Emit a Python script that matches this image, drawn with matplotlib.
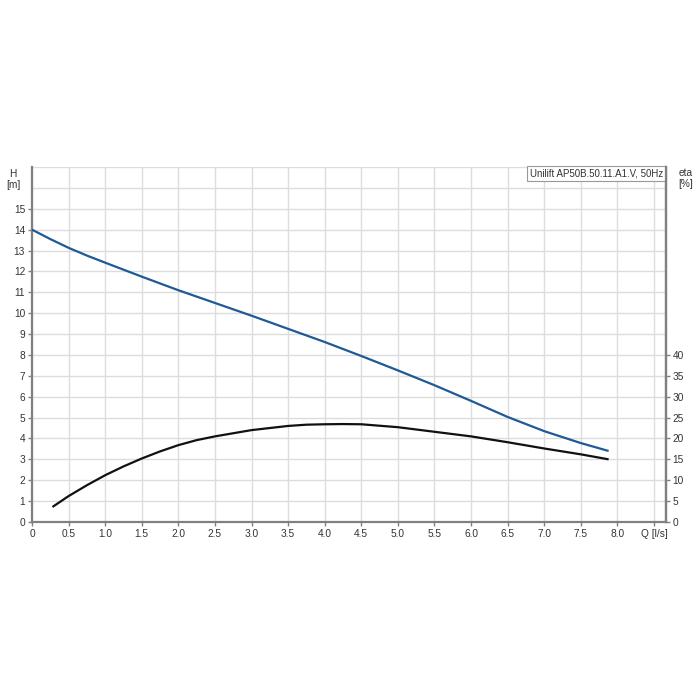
import matplotlib
matplotlib.use("Agg")
import matplotlib.pyplot as plt

plt.rcParams['font.family'] = ['Liberation Sans', 'DejaVu Sans']

# Head curve
q_head = [0.0, 0.25, 0.5, 0.75, 1.0, 1.5, 2.0, 2.5, 3.0, 3.5, 4.0, 4.5, 5.0, 5.5, 6.0, 6.5, 7.0, 7.5, 7.88]
head = [14.0, 13.55, 13.13, 12.76, 12.42, 11.75, 11.10, 10.49, 9.88, 9.25, 8.62, 7.95, 7.26, 6.55, 5.80, 5.03, 4.35, 3.78, 3.40]

# Efficiency curve
q_eta = [0.28, 0.5, 0.75, 1.0, 1.25, 1.5, 1.75, 2.0, 2.25, 2.5, 3.0, 3.5, 3.75, 4.0, 4.25, 4.5, 5.0, 5.5, 6.0, 6.5, 7.0, 7.5, 7.88]
eta = [3.6, 6.2, 8.8, 11.2, 13.3, 15.2, 16.9, 18.4, 19.6, 20.5, 22.0, 23.0, 23.3, 23.4, 23.45, 23.4, 22.7, 21.6, 20.5, 19.1, 17.6, 16.2, 15.0]

x_ticks = [0, 0.5, 1.0, 1.5, 2.0, 2.5, 3.0, 3.5, 4.0, 4.5, 5.0, 5.5, 6.0, 6.5, 7.0, 7.5, 8.0, 8.5]
x_labels = ["0", "0.5", "1.0", "1.5", "2.0", "2.5", "3.0", "3.5", "4.0", "4.5",
            "5.0", "5.5", "6.0", "6.5", "7.0", "7.5", "8.0", "Q [l/s]"]
h_ticks = list(range(0, 16))
eta_ticks = list(range(0, 45, 5))
title_text = "Unilift AP50B.50.11.A1.V, 50Hz"

grid_c = "#dcdcdc"
spine_c = "#808080"
txt_c = "#333333"

fig = plt.figure(figsize=(7, 7), dpi=100)
ax = fig.add_axes([0.0457, 0.2543, 0.9053, 0.5071])
ax.set_xlim(0, 8.66)
ax.set_ylim(0, 17)

# grid
for xv in x_ticks:
    ax.axvline(xv, color=grid_c, lw=1.0, zorder=0)
for yv in range(0, 18):
    ax.axhline(yv, color=grid_c, lw=1.0, zorder=0)

ax.plot(q_head, head, color="#1f5a96", lw=1.6, zorder=3,
        solid_capstyle='butt', solid_joinstyle='round')

ax.set_xticks(x_ticks)
ax.set_xticklabels(x_labels)
ax.set_yticks(h_ticks)
ax.tick_params(axis='both', labelsize=7.3, colors=spine_c, labelcolor=txt_c, length=3, width=1, pad=2)

ax.spines['top'].set_visible(False)
for s in ['left', 'bottom', 'right']:
    ax.spines[s].set_color(spine_c)
    ax.spines[s].set_linewidth(1.6)

ax2 = ax.twinx()
ax2.set_ylim(0, 85)
ax2.plot(q_eta, eta, color="#111111", lw=1.6, zorder=3,
         solid_capstyle='butt', solid_joinstyle='round')
ax2.set_yticks(eta_ticks)
ax2.tick_params(axis='y', labelsize=7.3, colors=spine_c, labelcolor=txt_c, length=3, width=1, pad=2)
ax2.spines['top'].set_visible(False)
ax2.spines['left'].set_visible(False)
ax2.spines['bottom'].set_visible(False)
ax2.spines['right'].set_color(spine_c)
ax2.spines['right'].set_linewidth(1.6)

# axis titles
fig.text(13 / 700, 1 - 174 / 700, "H", fontsize=7.3, color=txt_c, ha='center', va='center')
fig.text(13 / 700, 1 - 185 / 700, "[m]", fontsize=7.3, color=txt_c, ha='center', va='center')
fig.text(686 / 700, 1 - 173 / 700, "eta", fontsize=7.3, color=txt_c, ha='center', va='center')
fig.text(686 / 700, 1 - 184 / 700, "[%]", fontsize=7.3, color=txt_c, ha='center', va='center')

# title box
ax.text(0.996, 0.996, title_text, transform=ax.transAxes, fontsize=7.0, color=txt_c,
        ha='right', va='top', zorder=5,
        bbox=dict(boxstyle='square,pad=0.25', facecolor='white', edgecolor='#999999', lw=0.8))

fig.savefig("out.png", dpi=100, facecolor='white')
